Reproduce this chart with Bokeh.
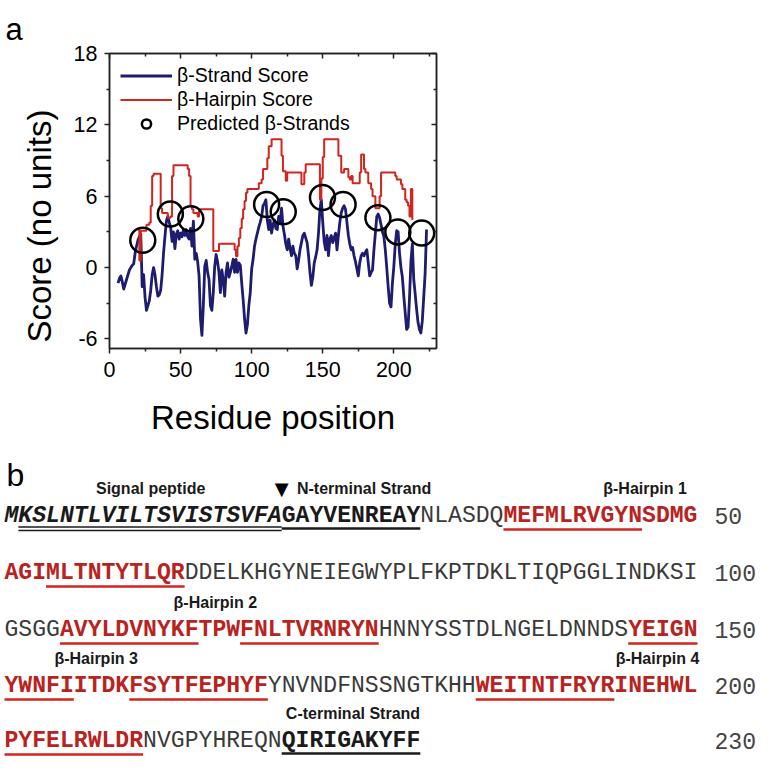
from bokeh.plotting import figure
from bokeh.models import Range1d, LinearAxis, FixedTicker, Label, Legend, LegendItem, Title
from bokeh.embed import file_html
from bokeh.resources import INLINE
from bokeh.core.properties import value

# ---------------- data: panel a ----------------
strand_res = list(range(6, 224))
strand_score = [
    -1.3, -0.9, -0.7, -1.2, -1.8, -1.4, -1.0, -0.6, -0.2, 0.0,
    0.2, 0.3, 1.2, 1.8, 2.3, 2.6, 2.8, -1.6, -0.6, -2.5,
    -3.6, -3.2, -2.8, -1.9, -0.6, 0.0, -0.6, -1.6, -2.4, -2.3,
    -1.9, -0.6, 1.2, 2.6, 3.9, 4.3, 3.8, 3.4, 2.2, 3.0,
    1.6, 2.8, 3.1, 2.4, 2.9, 2.6, 3.2, 2.7, 3.2, 2.6,
    2.4, 3.3, 1.8, 3.9, 0.7, 1.2, 0.5, -0.7, -4.3, -5.7,
    -3.2, 0.1, 0.6, -0.4, -1.0, -3.2, -3.6, -2.1, 0.1, 1.1,
    0.5, -0.4, -2.1, -0.2, -1.0, -2.4, -0.4, 0.4, -0.8, -0.4,
    0.1, 0.7, -0.4, 0.7, -0.4, 0.4, 0.2, -1.3, -2.7, -4.3,
    -5.5, -4.8, -3.2, -2.1, -0.1, 0.7, 1.8, 2.4, 2.9, 3.4,
    3.8, 4.3, 5.2, 5.4, 5.7, 4.0, 3.2, 4.0, 2.9, 3.6,
    4.0, 3.3, 3.2, 4.3, 3.8, 5.0, 3.5, 2.8, 2.0, 1.5,
    2.4, 1.6, 1.0, 1.8, 1.2, 1.0, -0.1, 0.6, 1.5, 2.1,
    2.7, 2.9, 2.5, 2.1, 1.0, -0.4, -1.5, -0.8, 0.4, 0.9,
    1.5, 2.9, 4.9, 5.7, 3.8, 2.2, 1.5, 2.7, 1.0, 2.4,
    2.7, 2.1, 2.5, 2.9, 1.5, 2.7, 3.8, 4.6, 5.0, 5.2,
    4.9, 3.8, 2.7, 2.0, 1.5, 1.7, 1.0, 0.5, -0.1, -0.7,
    0.4, 1.0, 1.2, 1.0, 1.3, 1.5, 0.4, -0.7, -0.4, -0.2,
    1.5, 2.9, 4.3, 4.5, 4.2, 3.6, 3.0, 2.6, 1.5, 0.0,
    -1.6, -3.0, -3.3, -1.3, 0.1, 2.0, 3.1, 3.0, 1.2, 0.0,
    -0.8, -2.4, -3.8, -5.2, -5.0, -2.6, 0.5, 2.0, -1.0, -2.2,
    -3.5, -4.6, -5.2, -5.5, -4.5, -2.5, -0.5, 3.2,
]
hairpin_res = [20, 21, 22, 26, 28, 29, 30, 31, 36, 37,
               41, 43, 44, 45, 55, 56, 57, 58, 59, 62,
               63, 73, 77, 88, 89, 90, 91, 92, 93, 94,
               95, 96, 97, 105, 107, 108, 111, 112, 114, 121,
               122, 124, 125, 135, 137, 138, 148, 149, 150, 151,
               161, 163, 165, 168, 169, 170, 171, 176, 177, 179,
               180, 182, 184, 185, 187, 190, 191, 201, 202, 205,
               206, 208, 209, 210, 211, 212, 213]
hairpin_score = [3.2, 0.6, 3.1, 3.6, 3.8, 5.2, 7.7, 7.9, 5.0, 4.6,
                 4.2, 4.3, 7.7, 8.6, 8.3, 7.7, 5.2, 4.9, 4.6, 4.3,
                 4.9, 1.4, 2.0, 1.5, 0.95, 1.8, 2.5, 3.3, 4.1, 4.9,
                 5.6, 6.3, 6.6, 7.1, 7.4, 8.3, 9.2, 10.2, 10.8, 9.4,
                 8.1, 7.3, 8.0, 7.0, 8.0, 8.7, 5.7, 7.5, 9.3, 10.8,
                 9.4, 8.0, 8.3, 7.6, 7.4, 7.7, 7.1, 8.0, 9.5, 8.3,
                 8.0, 7.1, 6.6, 6.0, 5.0, 6.0, 8.0, 7.7, 7.4, 7.0,
                 6.6, 5.7, 5.5, 5.2, 4.3, 6.6, 4.0]
circle_res = [23.4, 42.8, 57.2, 110.5, 122.2, 149.8, 164.3, 188.8, 202.8, 219.6]
circle_score = [2.3, 4.5, 4.1, 5.3, 4.7, 5.9, 5.3, 4.2, 3.0, 2.9]

x_ticks = [0, 50, 100, 150, 200]
x_minor = [25, 75, 125, 175, 225]
y_ticks = [-6, 0, 6, 12, 18]
y_minor = [-3, 3, 9, 15]

# ---------------- data: panel b ----------------
sequence = ("MKSLNTLVILTSVISTSVFA" "GAYVENREAY" "NLASDQ" "MEFMLRVGYNSDMG"
            "AGIMLTNTYTLQR" "DDELKHGYNEIEGWYPLFKPTDKLTIQPGGLINDKSI"
            "GSGG" "AVYLDVNYKFTPWFNLTVRNRYN" "HNNYSSTDLNGELDNNDS" "YEIGN"
            "YWNFIITDKFSYTFEPHYF" "YNVNDFNSSNGTKHH" "WEITNTFRYRINEHWL"
            "PYFELRWLDR" "NVGPYHREQN" "QIRIGAKYFF")
line_ends = [50, 100, 150, 200, 230]
signal_peptide = (1, 20)
signal_underline = (2, 20)
terminal_strands = [(21, 30), (221, 230)]
hairpin_regions = [(37, 63), (105, 127), (146, 169), (185, 210)]
hairpin_strands = [(37, 46), (54, 63), (105, 114), (118, 127),
                   (146, 155), (160, 169), (185, 194), (201, 210)]
annot_text = ["Signal peptide", "N-terminal Strand", "β-Hairpin 1", "β-Hairpin 2",
              "β-Hairpin 3", "β-Hairpin 4", "C-terminal Strand"]

# ---------------- styles / layout ----------------
FONT = "Liberation Sans"
MONO = "Liberation Mono"
BLUE = "#1e1c6e"
RED = "#d1251f"
RED_TXT = "#b8231e"
DARK = "#1a1a1a"
W = 766
H0 = 40           # strip holding the panel letter "a"
HA = 444 - H0     # plot of panel a
HB = 765 - H0 - HA
A_TOP = 8 + H0
B_TOP = A_TOP + HA   # reference y where panel b starts

# panel a frame in reference pixels
FR_L, FR_R, FR_T, FR_B = 117, 444, 61, 356
XR = (0, 230)
YR = (-6.8, 18)


def text_strip(h, top):
    f = figure(width=W, height=h, x_range=Range1d(8, 8 + W), y_range=Range1d(top + h, top),
               output_backend="svg", toolbar_location=None,
               x_axis_location=None, y_axis_location=None, min_border=0,
               outline_line_color=None)
    f.grid.visible = False
    return f


p0 = text_strip(H0, 8)
p0.add_layout(Label(x=13, y=37, text="a", text_font=FONT, text_font_size="31px",
                    text_baseline="alphabetic", text_color="black"))

p = figure(width=W, height=HA, x_range=Range1d(*XR), y_range=Range1d(*YR),
           output_backend="svg", toolbar_location=None,
           min_border_left=FR_L - 8, min_border_right=W - (FR_R - 8),
           min_border_top=FR_T - A_TOP, min_border_bottom=B_TOP - FR_B)
p.grid.visible = False
p.outline_line_color = "#222222"
p.outline_line_width = 1.5

blue = p.line(strand_res, strand_score, line_color=BLUE, line_width=2.8, line_join="round")
red = p.step(hairpin_res, hairpin_score, mode="after", line_color=RED, line_width=2)
circ = p.scatter(circle_res, circle_score, marker="circle", size=25, fill_color=None,
                 line_color="black", line_width=2.5)


def style_axis(ax, inward):
    ax.axis_line_width = 1.5
    ax.axis_line_color = "#222222"
    ax.major_tick_line_width = 1.5
    ax.minor_tick_line_width = 1.5
    ax.major_tick_line_color = "#222222"
    ax.minor_tick_line_color = "#222222"
    if inward:
        ax.major_tick_in, ax.major_tick_out = 5, 0
        ax.minor_tick_in, ax.minor_tick_out = 3, 0
    else:
        ax.major_tick_in, ax.major_tick_out = 0, 5
        ax.minor_tick_in, ax.minor_tick_out = 0, 3


xa = p.xaxis[0]
ya = p.yaxis[0]
xa.ticker = FixedTicker(ticks=x_ticks, minor_ticks=x_minor)
ya.ticker = FixedTicker(ticks=y_ticks, minor_ticks=y_minor)
ya.major_label_overrides = {t: str(t) for t in y_ticks}
for ax in (xa, ya):
    style_axis(ax, False)
    ax.major_label_text_font = FONT
    ax.major_label_text_font_size = "21.5px"
    ax.major_label_text_color = "black"
    ax.axis_label_text_font = FONT
    ax.axis_label_text_font_size = "33px"
    ax.axis_label_text_font_style = "normal"
    ax.axis_label_text_color = "black"
xa.axis_label = "Residue position"
xa.major_label_standoff = 8
ya.major_label_standoff = 7
xa.axis_label_standoff = 19

ra = LinearAxis(ticker=FixedTicker(ticks=y_ticks, minor_ticks=y_minor),
                major_label_text_font_size="1px", major_label_text_color=None)
style_axis(ra, True)
p.add_layout(ra, "right")
ta = LinearAxis(ticker=FixedTicker(ticks=x_ticks, minor_ticks=x_minor),
                major_label_text_font_size="1px", major_label_text_color=None,
                major_label_standoff=0)
style_axis(ta, True)
p.add_layout(ta, "above")

# y label as a side title (sits lower than the frame centre, as in the figure)
p.add_layout(Title(text="Score (no units)", align="left", offset=6, standoff=25,
                   text_font=FONT, text_font_size="33px", text_font_style="normal",
                   text_color="black"), "left")

legend = Legend(items=[LegendItem(label="β-Strand Score", renderers=[blue]),
                       LegendItem(label="β-Hairpin Score", renderers=[red]),
                       LegendItem(label="Predicted β-Strands", renderers=[circ])],
                location="top_left", margin=11, padding=0, spacing=1,
                glyph_width=52, glyph_height=23, label_height=23, label_standoff=5,
                label_text_font=FONT, label_text_font_size="19.5px",
                label_text_color="black",
                border_line_color=None, background_fill_alpha=0)
p.add_layout(legend)

# ---------------- panel b ----------------
p2 = text_strip(HB, B_TOP)

TX0 = 12
CW = 13.86
line_y = [523, 580, 637, 693, 748]


def style_of(r):
    if signal_peptide[0] <= r <= signal_peptide[1]:
        return "signal"
    if any(a <= r <= b for a, b in terminal_strands):
        return "strand"
    if any(a <= r <= b for a, b in hairpin_regions):
        return "hairpin"
    return "plain"


runs = {k: dict(x=[], y=[], text=[]) for k in ["signal", "strand", "hairpin", "plain"]}
start = 1
for li, end in enumerate(line_ends):
    r = start
    while r <= end:
        s = style_of(r)
        r2 = r
        while r2 + 1 <= end and style_of(r2 + 1) == s:
            r2 += 1
        runs[s]["x"].append(TX0 + (r - start) * CW)
        runs[s]["y"].append(line_y[li])
        runs[s]["text"].append(sequence[r - 1:r2])
        r = r2 + 1
    start = end + 1

run_style = {"signal": ("bold italic", DARK), "strand": ("bold", DARK),
             "hairpin": ("bold", RED_TXT), "plain": ("normal", "#3a3a3a")}
for k, d in runs.items():
    fs, col = run_style[k]
    p2.text(x=d["x"], y=d["y"], text=d["text"], text_font=value(MONO),
            text_font_size="23.1px", text_font_style=fs, text_color=col,
            text_baseline="middle", text_align="left")

p2.text(x=[722] * len(line_ends), y=line_y, text=[str(e) for e in line_ends],
        text_font=value(MONO), text_font_size="23.1px", text_color="#444444",
        text_baseline="middle", text_align="left")


def seg_positions(a, b):
    out = []
    s = 1
    for li, e in enumerate(line_ends):
        lo, hi = max(a, s), min(b, e)
        if lo <= hi:
            out.append((TX0 + (lo - s) * CW, TX0 + (hi - s + 1) * CW, line_y[li]))
        s = e + 1
    return out


def draw_under(ranges, dy, color, lw):
    x0, x1, yy = [], [], []
    for a, b in ranges:
        for sx0, sx1, ly in seg_positions(a, b):
            x0.append(sx0)
            x1.append(sx1)
            yy.append(ly + dy)
    p2.segment(x0=x0, y0=yy, x1=x1, y1=yy, line_color=color, line_width=lw)


draw_under(hairpin_strands, 14, RED, 2.5)
draw_under(terminal_strands, 13, DARK, 2.5)
draw_under([signal_underline], 11.5, DARK, 1.6)
draw_under([signal_underline], 15, DARK, 1.6)

# annotations (line index, left char position)
annot_pos = [(0, 6.6), (0, 21.1), (0, 43.2), (2, 12.2), (3, 3.6), (3, 44.1), (4, 20.3)]
p2.text(x=[TX0 + c * CW for _, c in annot_pos], y=[line_y[l] - 27 for l, _ in annot_pos],
        text=annot_text, text_font=value(FONT), text_font_size="16px",
        text_font_style="bold", text_color=DARK, text_baseline="middle", text_align="left")
p2.text(x=[TX0 + 20.0 * CW], y=[line_y[0] - 27], text=["▼"], text_font=value("DejaVu Sans"),
        text_font_size="18px", text_color="black", text_baseline="middle", text_align="center")

p2.add_layout(Label(x=14, y=482, text="b", text_font=FONT, text_font_size="32px",
                    text_baseline="alphabetic", text_color="black"))

open("out.html", "w").write(file_html([p0, p, p2], INLINE))
